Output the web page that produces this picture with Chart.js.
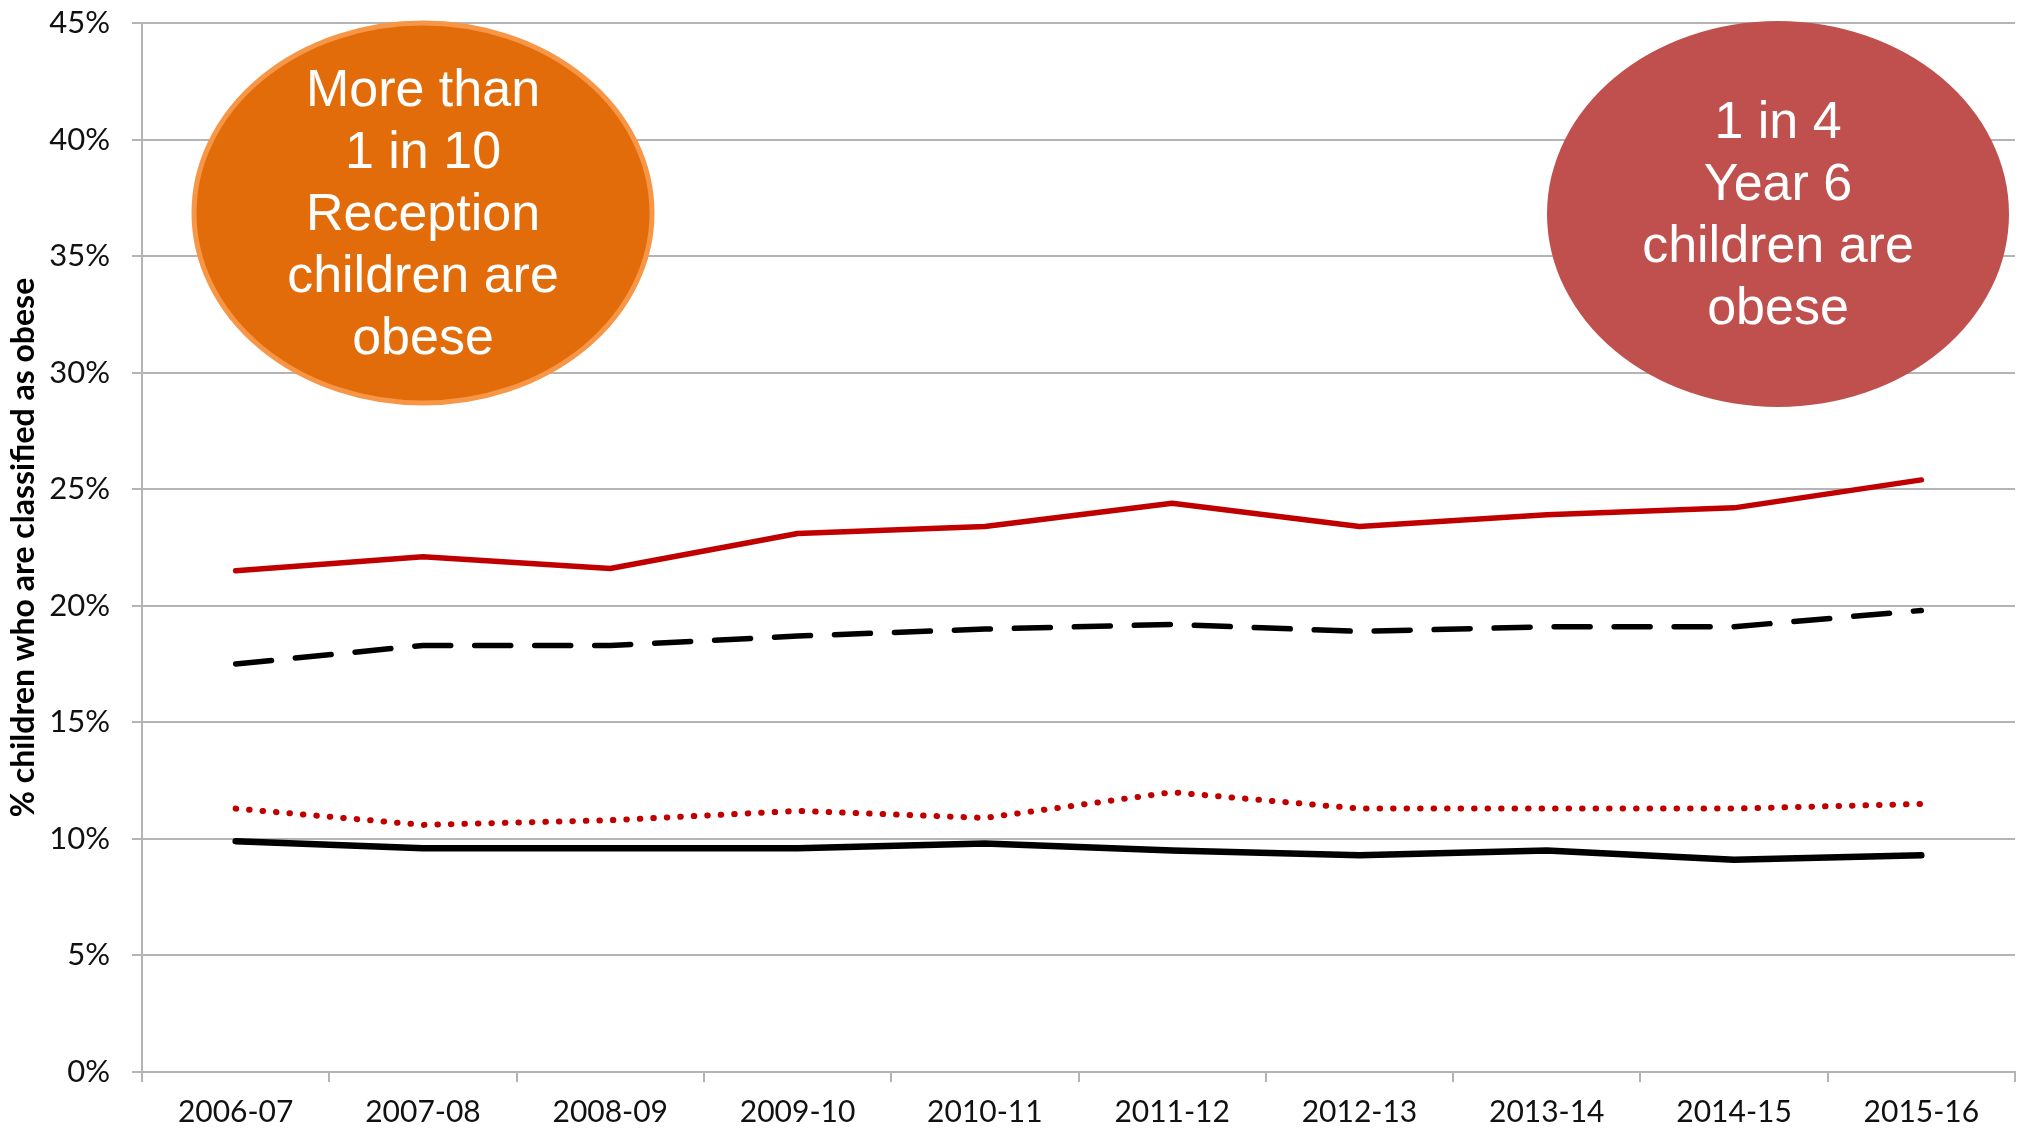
<!DOCTYPE html>
<html>
<head>
<meta charset="utf-8">
<script src="https://cdn.jsdelivr.net/npm/chart.js@4/dist/chart.umd.min.js"></script>
<style>
  html, body { margin: 0; padding: 0; background: #ffffff; }
  #wrap { width: 2022px; height: 1132px; }
</style>
</head>
<body>
<div id="wrap"><canvas id="c" width="2022" height="1132"></canvas></div>
<script>
// ---- data ----
const categories = ['2006-07','2007-08','2008-09','2009-10','2010-11','2011-12','2012-13','2013-14','2014-15','2015-16'];
const year6Local = [21.5, 22.1, 21.6, 23.1, 23.4, 24.4, 23.4, 23.9, 24.2, 25.4];
const year6England = [17.5, 18.3, 18.3, 18.7, 19.0, 19.2, 18.9, 19.1, 19.1, 19.8];
const receptionLocal = [11.3, 10.6, 10.8, 11.2, 10.9, 12.0, 11.3, 11.3, 11.3, 11.5];
const receptionEngland = [9.9, 9.6, 9.6, 9.6, 9.8, 9.5, 9.3, 9.5, 9.1, 9.3];
const yTickValues = [0, 5, 10, 15, 20, 25, 30, 35, 40, 45];
const yAxisTitle = '% children who are classified as obese';
const receptionCalloutLines = ['More than', '1 in 10', 'Reception', 'children are', 'obese'];
const year6CalloutLines = ['1 in 4', 'Year 6', 'children are', 'obese'];

const calloutPlugin = {
  id: 'callouts',
  afterDraw(chart) {
    const ctx = chart.ctx;
    const specs = [
      { cx: 423, cy: 213, rx: 229, ry: 190, fill: '#E36C0A', stroke: '#F79646', sw: 5, lines: receptionCalloutLines },
      { cx: 1778, cy: 214, rx: 231, ry: 193, fill: '#C0504D', stroke: null, sw: 0, lines: year6CalloutLines }
    ];
    specs.forEach(s => {
      ctx.save();
      ctx.beginPath();
      ctx.ellipse(s.cx, s.cy, s.rx, s.ry, 0, 0, Math.PI * 2);
      ctx.fillStyle = s.fill;
      ctx.fill();
      if (s.stroke) { ctx.lineWidth = s.sw; ctx.strokeStyle = s.stroke; ctx.stroke(); }
      ctx.fillStyle = '#ffffff';
      ctx.font = '52px "Liberation Sans", Arial, sans-serif';
      ctx.textAlign = 'center';
      ctx.textBaseline = 'middle';
      const n = s.lines.length;
      s.lines.forEach((t, i) => ctx.fillText(t, s.cx, s.cy + (i - (n - 1) / 2) * 62 + 3));
      ctx.restore();
    });
  }
};

const gridColor = '#b4b4b4';

new Chart(document.getElementById('c'), {
  type: 'line',
  data: {
    labels: categories,
    datasets: [
      { label: 'Year 6 (local)', data: year6Local, borderColor: '#C00000', borderWidth: 5.5, pointRadius: 0, tension: 0, borderCapStyle: 'round', borderJoinStyle: 'round' },
      { label: 'Year 6 (England)', data: year6England, borderColor: '#000000', borderWidth: 5.5, borderDash: [36, 24], borderCapStyle: 'round', pointRadius: 0, tension: 0 },
      { label: 'Reception (local)', data: receptionLocal, borderColor: '#C00000', borderWidth: 6, borderDash: [0.5, 13], borderCapStyle: 'round', pointRadius: 0, tension: 0 },
      { label: 'Reception (England)', data: receptionEngland, borderColor: '#000000', borderWidth: 6.5, pointRadius: 0, tension: 0, borderCapStyle: 'round', borderJoinStyle: 'round' }
    ]
  },
  options: {
    responsive: false,
    animation: false,
    devicePixelRatio: 1,
    layout: { padding: { left: 0, right: 7, top: 23, bottom: 0 } },
    plugins: { legend: { display: false }, tooltip: { enabled: false }, title: { display: false } },
    scales: {
      x: {
        type: 'category',
        offset: true,
        grid: { display: true, offset: true, drawOnChartArea: false, drawTicks: true, tickLength: 10, color: gridColor, lineWidth: 2 },
        border: { display: true, color: gridColor, width: 2 },
        ticks: { font: { family: 'Lato', size: 30 }, color: '#111111', padding: 12, maxRotation: 0, autoSkip: false },
        afterFit(scale) { scale.height = 60; scale.paddingLeft = 0; scale.paddingRight = 0; }
      },
      y: {
        min: 0, max: 45,
        afterBuildTicks(scale) { scale.ticks = yTickValues.map(v => ({ value: v })); },
        grid: { color: gridColor, lineWidth: 2, drawTicks: true, tickLength: 10 },
        border: { display: true, color: gridColor, width: 2 },
        ticks: { font: { family: 'Lato', size: 31 }, color: '#111111', padding: 22, callback: v => v + '%' },
        title: { display: true, text: yAxisTitle, font: { family: 'Lato', size: 32, weight: 'bold' }, color: '#000000', padding: { top: 4, bottom: 0 } },
        afterFit(scale) { scale.width = 142; scale.paddingTop = 0; scale.paddingBottom = 0; }
      }
    }
  },
  plugins: [calloutPlugin]
});
</script>
</body>
</html>
